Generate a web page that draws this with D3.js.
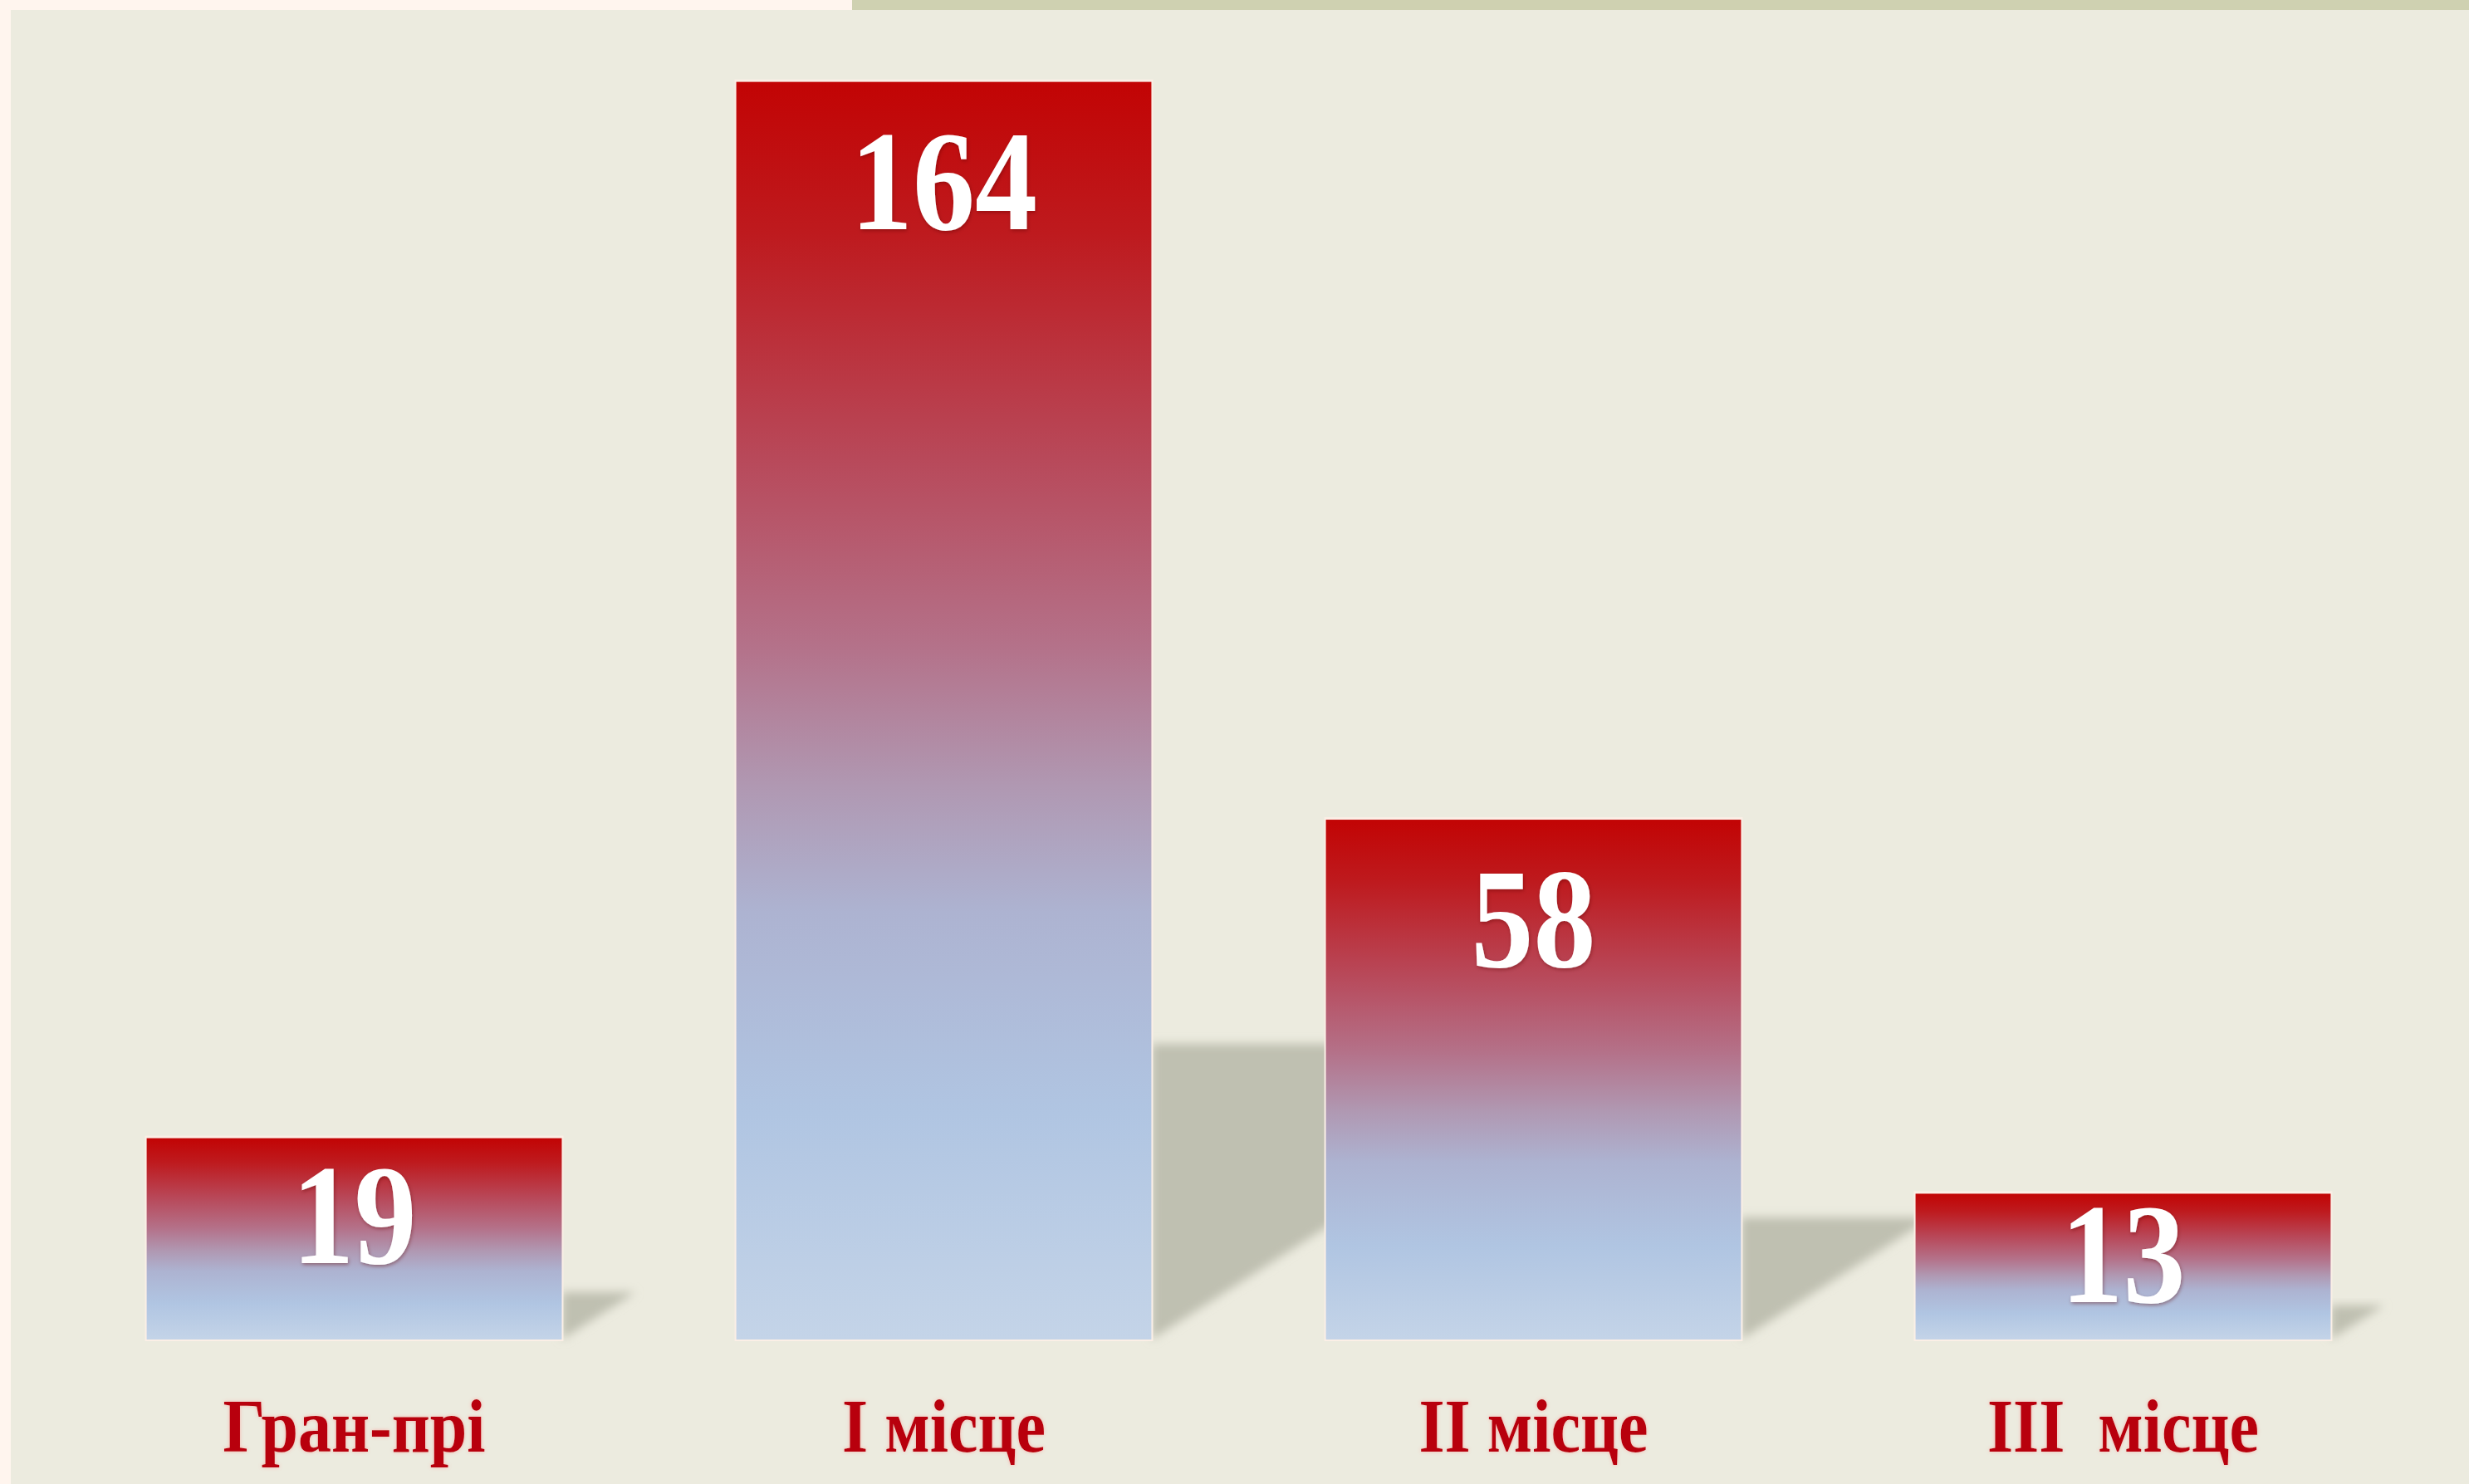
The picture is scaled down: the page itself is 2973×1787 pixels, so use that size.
<!DOCTYPE html>
<html>
<head>
<meta charset="utf-8">
<script src="https://cdn.jsdelivr.net/npm/d3@7"></script>
<style>
  html, body { margin: 0; padding: 0; background: #ecebdf; overflow: hidden; }
  svg { display: block; }
  text { font-family: "Liberation Serif", serif; font-weight: 700; }
</style>
</head>
<body>
<svg id="chart" width="2973" height="1787"></svg>
<script>
// ---- data ----
const categories = ["Гран-прі", "I місце", "II місце", "III  місце"];
const values = [19, 164, 58, 13];
const valueLabels = ["19", "164", "58", "13"];

// ---- layout ----
const W = 2973, H = 1787;
const baseY = 1613, topY = 98.6;

const svg = d3.select("#chart");
const defs = svg.append("defs");

// background pieces
svg.append("rect").attr("x", 0).attr("y", 0).attr("width", W).attr("height", H).attr("fill", "#ecebdf");
svg.append("rect").attr("x", 0).attr("y", 0).attr("width", 13).attr("height", H).attr("fill", "#fff5ee");
svg.append("rect").attr("x", 0).attr("y", 0).attr("width", 1026).attr("height", 12).attr("fill", "#fff5ee");
svg.append("rect").attr("x", 1026).attr("y", 0).attr("width", W - 1026).attr("height", 12).attr("fill", "#cfd1b1");

// gradient
const grad = defs.append("linearGradient").attr("id", "barGrad")
  .attr("x1", 0).attr("y1", 0).attr("x2", 0).attr("y2", 1);
[
  [0.00, "#c20404"],
  [0.12, "#be1a1e"],
  [0.30, "#b8495a"],
  [0.45, "#b4728a"],
  [0.56, "#b098b2"],
  [0.66, "#adb3d1"],
  [0.82, "#b0c5e2"],
  [1.00, "#c4d4e8"]
].forEach(([o, c]) => grad.append("stop").attr("offset", o).attr("stop-color", c));

const blur = defs.append("filter").attr("id", "shadowBlur")
  .attr("x", "-20%").attr("y", "-20%").attr("width", "140%").attr("height", "140%");
blur.append("feGaussianBlur").attr("stdDeviation", 6);

const glow = defs.append("filter").attr("id", "textGlow")
  .attr("x", "-20%").attr("y", "-30%").attr("width", "140%").attr("height", "160%");
glow.append("feGaussianBlur").attr("in", "SourceAlpha").attr("stdDeviation", 2).attr("result", "b");
glow.append("feFlood").attr("flood-color", "#ff7a7a").attr("flood-opacity", 0.5);
glow.append("feComposite").attr("in2", "b").attr("operator", "in").attr("result", "g");
const gm = glow.append("feMerge");
gm.append("feMergeNode").attr("in", "g");
gm.append("feMergeNode").attr("in", "SourceGraphic");

const numShadow = defs.append("filter").attr("id", "numShadow")
  .attr("x", "-20%").attr("y", "-30%").attr("width", "140%").attr("height", "160%");
numShadow.append("feGaussianBlur").attr("in", "SourceAlpha").attr("stdDeviation", 2).attr("result", "b");
numShadow.append("feOffset").attr("dx", 1).attr("dy", 2).attr("result", "o");
numShadow.append("feFlood").attr("flood-color", "#5a0000").attr("flood-opacity", 0.4);
numShadow.append("feComposite").attr("in2", "o").attr("operator", "in").attr("result", "s");
const nm = numShadow.append("feMerge");
nm.append("feMergeNode").attr("in", "s");
nm.append("feMergeNode").attr("in", "SourceGraphic");

// scales
const x = d3.scaleBand().domain(categories).range([5, W + 5])
  .paddingInner(0.296).paddingOuter(0.2417);
const y = d3.scalePow().exponent(0.85).domain([0, 164]).range([baseY, topY]);

const data = categories.map((c, i) => ({ cat: c, v: values[i], lab: valueLabels[i] }));

// shadows
svg.append("g").selectAll("path").data(data).join("path")
  .attr("d", d => {
    const r = x(d.cat) + x.bandwidth();
    const h = baseY - y(d.v);
    const s = 0.235 * h;
    return `M${r},${baseY} L${r},${baseY - s} L${r + 1.56 * s},${baseY - s} Z`;
  })
  .attr("fill", "#bfc0b1")
  .attr("filter", "url(#shadowBlur)");

// bar halo
svg.append("g").selectAll("rect").data(data).join("rect")
  .attr("x", d => x(d.cat) - 2)
  .attr("y", d => y(d.v) - 3)
  .attr("width", x.bandwidth() + 4)
  .attr("height", d => baseY - y(d.v) + 5)
  .attr("fill", "#fbefe6");

// bars
svg.append("g").selectAll("rect").data(data).join("rect")
  .attr("x", d => x(d.cat))
  .attr("y", d => y(d.v))
  .attr("width", x.bandwidth())
  .attr("height", d => baseY - y(d.v))
  .attr("fill", "url(#barGrad)");

// value labels
svg.append("g").selectAll("text").data(data).join("text")
  .attr("transform", d => {
    const h = baseY - y(d.v);
    const off = Math.min(177, 0.3 * h + 78);
    return `translate(${x(d.cat) + x.bandwidth() / 2},${y(d.v) + off}) scale(1,1.15)`;
  })
  .attr("text-anchor", "middle")
  .attr("font-size", 150)
  .attr("fill", "#ffffff")
  .attr("filter", "url(#numShadow)")
  .text(d => d.lab);

// category labels
svg.append("g").selectAll("text").data(data).join("text")
  .attr("transform", d => `translate(${x(d.cat) + x.bandwidth() / 2},1748) scale(1,1.15)`)
  .attr("text-anchor", "middle")
  .attr("font-size", 80)
  .attr("fill", "#b8000c")
  .attr("filter", "url(#textGlow)")
  .style("white-space", "pre")
  .text(d => d.cat);
</script>
</body>
</html>
